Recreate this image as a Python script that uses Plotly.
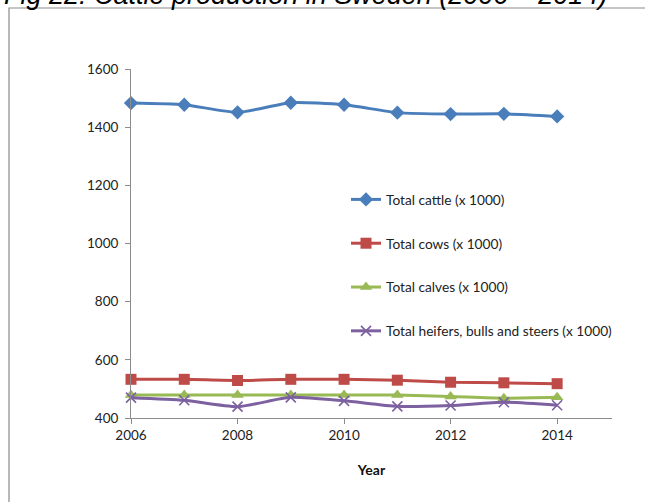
import plotly.graph_objects as go

years = [2006, 2007, 2008, 2009, 2010, 2011, 2012, 2013, 2014]
total_cattle = [1483, 1477, 1451, 1484, 1477, 1450, 1445, 1446, 1437]
total_cows = [533, 533, 529, 533, 533, 530, 523, 521, 518]
total_calves = [479, 479, 479, 479, 479, 479, 474, 468, 471]
total_heifers = [470, 461, 439, 471, 459, 440, 443, 454, 444]

series_names = [
    "Total cattle (x 1000)",
    "Total cows (x 1000)",
    "Total calves (x 1000)",
    "Total heifers, bulls and steers (x 1000)",
]
x_tick_vals = [2006, 2008, 2010, 2012, 2014]
y_tick_vals = [400, 600, 800, 1000, 1200, 1400, 1600]
title_text = "Fig 22: Cattle production in Sweden (2006 \u2013 2014)"
x_title = "Year"

FONT = "Lato"
styles = [
    dict(color="#4A7EBB", symbol="diamond", size=11, lw=0),
    dict(color="#BE4B48", symbol="square", size=11, lw=0),
    dict(color="#98B954", symbol="triangle-up", size=11, lw=0),
    dict(color="#7D60A0", symbol="x-thin", size=10, lw=1.6),
]

fig = go.Figure()
for i, (name, vals) in enumerate(zip(series_names,
                                     [total_cattle, total_cows, total_calves, total_heifers])):
    s = styles[i]
    marker = dict(symbol=s["symbol"], size=s["size"], color=s["color"])
    if s["lw"]:
        marker["line"] = dict(width=s["lw"], color=s["color"])
    fig.add_trace(go.Scatter(
        x=years, y=vals, name=name, mode="lines+markers",
        line=dict(color=s["color"], width=3, shape="spline", smoothing=0.6),
        marker=marker, legendgroup=f"g{i}", cliponaxis=False,
    ))

W, H = 645, 502
ml, mr, mt, mb = 131, 33, 69, 84
pw, ph = W - ml - mr, H - mt - mb

def px_x(p):
    return (p - ml) / pw

def px_y(p):
    return (H - mb - p) / ph

fig.update_layout(
    width=W, height=H,
    margin=dict(l=ml, r=mr, t=mt, b=mb, pad=0),
    paper_bgcolor="white", plot_bgcolor="white",
    font=dict(family=FONT, size=13.5, color="#222222"),
    showlegend=True,
    legend=dict(
        x=px_x(346), y=px_y(184), xanchor="left", yanchor="top",
        traceorder="grouped", tracegroupgap=23,
        font=dict(family=FONT, size=13.7, color="#222222"),
        bgcolor="rgba(0,0,0,0)",
    ),
    xaxis=dict(
        range=[2006, 2015.03], tickvals=x_tick_vals, ticktext=[str(v) for v in x_tick_vals],
        showgrid=False, zeroline=False, showline=True, linecolor="#8C8C8C", linewidth=1,
        ticks="outside", ticklen=5, tickcolor="#8C8C8C",
        tickfont=dict(family=FONT, size=13.5, color="#222222"),
        title=dict(text="<b>" + x_title + "</b>", standoff=22,
                   font=dict(family=FONT, size=14, color="#111111")),
    ),
    yaxis=dict(
        range=[400, 1600], tickvals=y_tick_vals,
        showgrid=False, zeroline=False, showline=True, linecolor="#8C8C8C", linewidth=1,
        ticks="outside", ticklen=5, tickcolor="#8C8C8C", ticklabelstandoff=4,
        tickfont=dict(family=FONT, size=13.5, color="#222222"),
    ),
    shapes=[dict(
        type="rect", xref="paper", yref="paper",
        x0=px_x(9), x1=px_x(700), y0=px_y(560), y1=px_y(8),
        line=dict(color="#8A8A8A", width=1.2), fillcolor="rgba(0,0,0,0)", layer="below",
    )],
    annotations=[dict(
        text="<i>" + title_text + "</i>", xref="paper", yref="paper",
        x=px_x(2), y=px_y(12), xanchor="left", yanchor="bottom", showarrow=False,
        font=dict(family="Liberation Sans", size=27, color="#000000"),
    )],
)

fig.write_html("out.html")
